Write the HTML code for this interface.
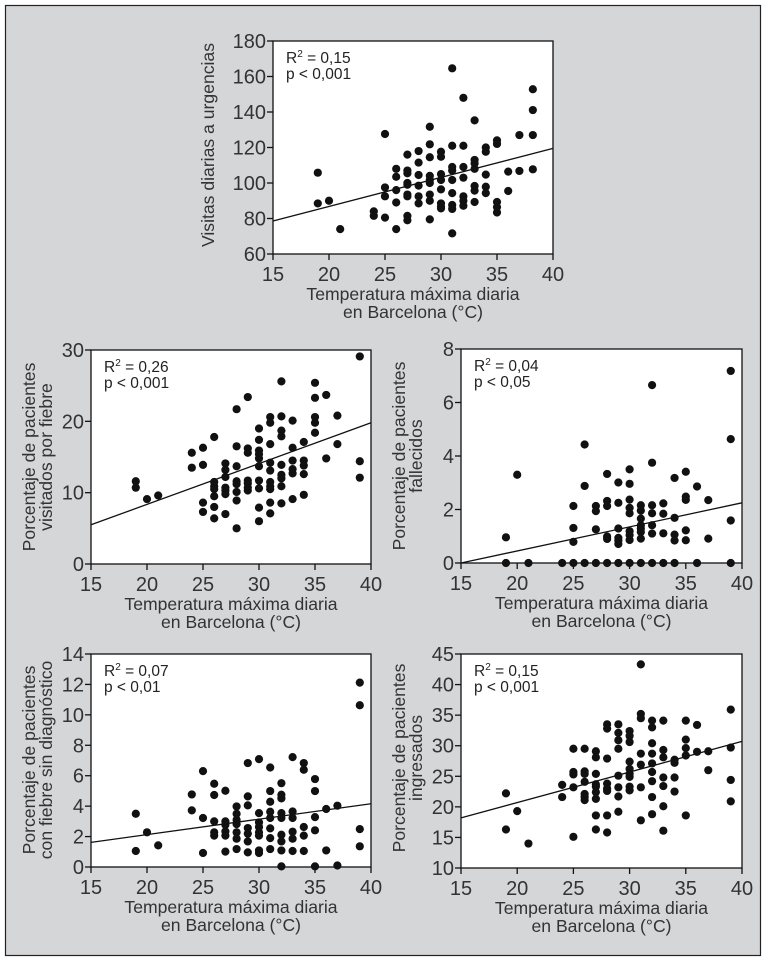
<!DOCTYPE html>
<html><head><meta charset="utf-8"><style>
html,body{margin:0;padding:0;background:#fff;}
svg{display:block;font-family:"Liberation Sans",sans-serif;}
</style></head><body>
<svg id="fig" width="766" height="959" viewBox="0 0 766 959" xmlns="http://www.w3.org/2000/svg">
<rect x="5.5" y="5.5" width="755" height="950" fill="#d5d6d8" stroke="#222" stroke-width="1.2"/>
</svg>
<script>
// ---- Data: temperature columns and observed values per column ----
const temps1 = [19,20,21,24,25,26,27,28,29,30,31,32,33,34,35,36,37,38.2];
const visits = [[105.8,88.5],[90],[74],[84,81.5],[127.6,97.5,92.5,80.5],[108,103.5,96,89,74],
 [116,107,105.5,100,99,93.5,92.5,81.5,79],[118,111.5,104.5,98.5,92.5,88.5],
 [131.7,121.8,114.5,104,101.7,100,93.5,90,79.5],[117.6,114.8,105,101.7,96.4,88.5,86.7,85.7],
 [164.6,121,109,107,101.7,94.3,87.6,85.4,71.6],[148,121,109,103,92.5,90,87.2],
 [135.3,113,111,108,98.3,95.7,89.3],[120,117.6,104.7,97.9,94.3],[124,122,89.3,86.4,83.4],
 [106.4,95.5],[127,106.8],[152.8,141.1,127,107.7]];
const fit1 = [78.6,119.5];

const temps = [19,20,21,24,25,26,27,28,29,30,31,32,33,34,35,36,37,39];
const fever = [[11.6,10.7],[9.1],[9.6],[15.6,13.5],[16.3,13.9,8.6,7.3],[17.8,11.5,10.9,10.5,9.5,8,6.4],
 [14.1,13.2,12.2,10.7,10.3,9.8,7],[21.7,16.5,13.7,11.6,11.2,10.1,8.9,5],
 [23.4,16.2,15.6,11.7,11.3,10.7,10.3],[19,17.4,15.9,15.4,14.8,13.7,11.7,10.6,7.9,6],
 [20.6,19.8,16.8,14.2,13.1,11.5,10.9,10.5,8.6,7.1],[25.6,20.7,18.7,17.9,13.9,12.5,12,10.9,8.5],
 [20.1,16.3,14.5,13.3,12.7,9.1],[17.1,14.5,13.8,12.6,9.7],[25.4,23.3,20.6,19.8,18.4],
 [23.7,14.8],[20.8,16.8],[29.1,14.4,12.1]];
const fit2 = [5.5,19.8];

const deaths = [[0.96,0],[3.3],[0],[0],[2.13,1.31,0.79,0],[4.43,2.88,0],[2.13,1.94,1.26,0],
 [3.33,2.32,2.13,0.99,0.9,0],[3.01,2.25,1.29,0.94,0.84,0.71,0],
 [3.5,2.96,2.37,2.06,1.86,1.19,1.04,0.86,0],[2.16,1.96,1.66,1.41,1.29,1.16,0.91,0],
 [6.65,3.75,2.16,1.86,1.41,1.1,0],[2.23,1.84,1.11,0],[3.18,1.69,1.06,0.84,0],
 [3.41,2.48,2.36,1.22,0.85],[2.86,0],[2.35,0.91],[7.18,4.63,1.59,0]];
const fit3 = [0,2.25];

const nodiag = [[3.5,1.05],[2.28],[1.42],[4.77,3.72],[6.3,3.22,0.92],[5.47,4.73,3,2.28,2.06],
 [5.01,3,2.78,2.34,2.06,1.01],[3.98,3.5,3.1,2.82,2.28,1.86,1.18],
 [6.83,4.64,4.05,2.56,2.19,1.68,0.96],[7.09,3.54,2.93,2.63,2.28,2.06,1.09,0.92],
 [6.54,4.99,4.29,3.63,3.22,2.54,1.9,1.18],[5.51,4.75,4.51,3.54,3.22,2.12,1.68,1.09,0.04],
 [7.22,3.65,3.22,2.32,1.86,1.05],[6.83,6.39,2.63,2.06,1.05],[5.78,4.99,3.28,2.41,0.04],
 [3.81,1.09],[4.03,0.1],[12.12,10.63,2.49,1.36]];
const fit4 = [1.62,4.16];

const admitted = [[22.2,16.3],[19.3],[14],[23.6,21.6],[29.5,25.7,25.3,23.2,15.1],
 [29.5,25.8,25.4,24.1,22.1,21.6,21.1],[29.1,28.1,25.4,23.7,23.3,22.4,21.3,18.6,16.3],
 [33.5,32.8,27.9,23.8,23,22.6,18.6,15.8],[33.5,32.1,30.9,29.5,25.1,23.2,21.7,19.2],
 [32.4,31.6,30.6,27.4,26.2,25.4,24.9,23.3,22.7],[43.3,35.2,34.5,28.7,26.9,23.2,17.8],
 [34.1,33,30.4,28.7,27.1,25.7,24.2,21.6,18.8],[34.1,29.3,28.1,24.8,23.4,20.1,16.1],
 [27.7,27.2,24.8,22.5],[34.1,31,29.6,28.4,18.6],[33.4,29],[29.1,26],[35.9,29.7,24.4,20.9]];
const fit5 = [18.2,30.7];

const xTicks = [15,20,25,30,35,40];
const yTicks1 = [60,80,100,120,140,160,180];
const yTicks2 = [0,10,20,30];
const yTicks3 = [0,2,4,6,8];
const yTicks4 = [0,2,4,6,8,10,12,14];
const yTicks5 = [10,15,20,25,30,35,40,45];

const NS = "http://www.w3.org/2000/svg";
const svg = document.getElementById('fig');
function mk(tag, attrs, parent){
  const e = document.createElementNS(NS, tag);
  for (const k in attrs) e.setAttribute(k, attrs[k]);
  (parent||svg).appendChild(e); return e;
}

function drawPlot(name, box, xs, cols, yTicks, fit, r2, p, titleLines, tbox){
  const g = mk('g', {});
  
  
  const yMin = yTicks[0], yMax = yTicks[yTicks.length-1];
  const sx = v => box.x0 + (v-15)/(40-15)*(box.x1-box.x0);
  const sy = v => box.y1 - (v-yMin)/(yMax-yMin)*(box.y1-box.y0);
  const area = mk('rect', {x:box.x0, y:box.y0, width:box.x1-box.x0, height:box.y1-box.y0, fill:'#fff', stroke:'#111', 'stroke-width':1.3}, g);
  
  
  xTicks.forEach(t => {
    mk('line', {x1:sx(t), x2:sx(t), y1:box.y1, y2:box.y1+6, stroke:'#111','stroke-width':1.3}, g);
    const tx = mk('text', {x:sx(t), y:box.y1+27, 'text-anchor':'middle','font-size':20, fill:'#333'}, g);
    tx.textContent = t;
    
    
  });
  yTicks.forEach(t => {
    mk('line', {x1:box.x0-6, x2:box.x0, y1:sy(t), y2:sy(t), stroke:'#111','stroke-width':1.3}, g);
    const tx = mk('text', {x:box.x0-7, y:sy(t)+7, 'text-anchor':'end','font-size':20, fill:'#333'}, g);
    tx.textContent = t;
    
    
  });
  const cx = (box.x0+box.x1)/2;
  const xt1 = mk('text', {x:cx, y:box.y1+46, 'text-anchor':'middle','font-size':17.6, fill:'#333'}, g);
  xt1.textContent = 'Temperatura máxima diaria';
  
  
  const xt2 = mk('text', {x:cx, y:box.y1+64, 'text-anchor':'middle','font-size':17.6, fill:'#333'}, g);
  xt2.textContent = 'en Barcelona (°C)';
  
  
  titleLines.forEach((s, i) => {
    const x = tbox.xs[i], y = tbox.cy;
    const t = mk('text', {x:x, y:y, transform:`rotate(-90 ${x} ${y})`, 'text-anchor':'middle','font-size':17.6, fill:'#333'}, g);
    t.textContent = s;
    
    
  });
  const ln = mk('line', {x1:sx(15), y1:sy(fit[0]), x2:sx(40), y2:sy(fit[1]), stroke:'#111','stroke-width':1.3}, g);
  
  
  xs.forEach((xv, i) => {
    cols[i].forEach(v => {
      const c = mk('circle', {cx:sx(xv), cy:sy(v), r:4.1, fill:'#111'}, g);
      
      
    });
  });
  const st = mk('text', {x:box.x0+13, y:box.y0+22, 'font-size':15.5, fill:'#222'}, g);
  
  
  st.innerHTML = 'R<tspan dy="-6" font-size="10">2</tspan><tspan dy="6"> = ' + r2 + '</tspan>';
  const pt = mk('text', {x:box.x0+13, y:box.y0+38, 'font-size':15.5, fill:'#222'}, g);
  pt.textContent = 'p < ' + p;
  
  
}

drawPlot('chart-urgency-visits', {x0:273,x1:553,y0:41,y1:254}, temps1, visits, yTicks1, fit1, '0,15', '0,001',
  ['Visitas diarias a urgencias'], {xs:[214], cy:145});
drawPlot('chart-fever-visits', {x0:91,x1:371,y0:350,y1:564}, temps, fever, yTicks2, fit2, '0,26', '0,001',
  ['Porcentaje de pacientes','visitados por fiebre'], {xs:[35,52], cy:457});
drawPlot('chart-deaths', {x0:461,x1:742,y0:349,y1:563}, temps, deaths, yTicks3, fit3, '0,04', '0,05',
  ['Porcentaje de pacientes','fallecidos'], {xs:[405,422], cy:456});
drawPlot('chart-fever-no-diagnosis', {x0:91,x1:371,y0:654,y1:867}, temps, nodiag, yTicks4, fit4, '0,07', '0,01',
  ['Porcentaje de pacientes','con fiebre sin diagnóstico'], {xs:[35,52], cy:760});
drawPlot('chart-admitted', {x0:461,x1:742,y0:654,y1:868}, temps, admitted, yTicks5, fit5, '0,15', '0,001',
  ['Porcentaje de pacientes','ingresados'], {xs:[405,422], cy:758});
</script>
</body></html>
